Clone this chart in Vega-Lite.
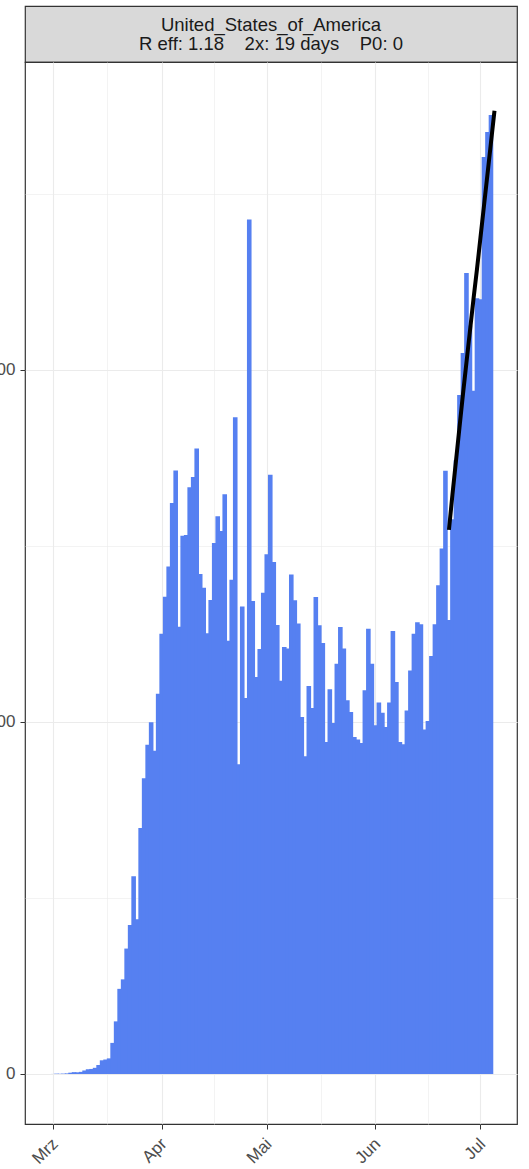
{
  "$schema": "https://vega.github.io/schema/vega-lite/v6.json",
  "padding": {"left": -33, "top": 5, "right": 0, "bottom": 0},
  "background": "white",
  "spacing": 0,
  "bounds": "flush",
  "config": {
    "font": "Liberation Sans",
    "view": {"stroke": null},
    "axis": {
      "domain": false,
      "gridColor": "#ebebeb",
      "tickColor": "#333333",
      "labelColor": "#4d4d4d",
      "labelFont": "Liberation Sans",
      "labelFontSize": 17,
      "tickSize": 5,
      "labelPadding": 5
    }
  },
  "datasets": {
    "strip": [{"label": "United_States_of_America\nR eff: 1.18\u00a0\u00a0\u00a0 2x: 19 days\u00a0\u00a0\u00a0 P0: 0"}],
    "cases": [
      {"date": "2020-03-01", "cases": 3},
      {"date": "2020-03-02", "cases": 20},
      {"date": "2020-03-03", "cases": 14},
      {"date": "2020-03-04", "cases": 22},
      {"date": "2020-03-05", "cases": 34},
      {"date": "2020-03-06", "cases": 74},
      {"date": "2020-03-07", "cases": 105},
      {"date": "2020-03-08", "cases": 95},
      {"date": "2020-03-09", "cases": 121},
      {"date": "2020-03-10", "cases": 200},
      {"date": "2020-03-11", "cases": 271},
      {"date": "2020-03-12", "cases": 287},
      {"date": "2020-03-13", "cases": 351},
      {"date": "2020-03-14", "cases": 511},
      {"date": "2020-03-15", "cases": 777},
      {"date": "2020-03-16", "cases": 823},
      {"date": "2020-03-17", "cases": 887},
      {"date": "2020-03-18", "cases": 1766},
      {"date": "2020-03-19", "cases": 2988},
      {"date": "2020-03-20", "cases": 4835},
      {"date": "2020-03-21", "cases": 5374},
      {"date": "2020-03-22", "cases": 7123},
      {"date": "2020-03-23", "cases": 8459},
      {"date": "2020-03-24", "cases": 11236},
      {"date": "2020-03-25", "cases": 8789},
      {"date": "2020-03-26", "cases": 13963},
      {"date": "2020-03-27", "cases": 16797},
      {"date": "2020-03-28", "cases": 18695},
      {"date": "2020-03-29", "cases": 19979},
      {"date": "2020-03-30", "cases": 18360},
      {"date": "2020-03-31", "cases": 21595},
      {"date": "2020-04-01", "cases": 24998},
      {"date": "2020-04-02", "cases": 27103},
      {"date": "2020-04-03", "cases": 28819},
      {"date": "2020-04-04", "cases": 32425},
      {"date": "2020-04-05", "cases": 34272},
      {"date": "2020-04-06", "cases": 25398},
      {"date": "2020-04-07", "cases": 30561},
      {"date": "2020-04-08", "cases": 30613},
      {"date": "2020-04-09", "cases": 33323},
      {"date": "2020-04-10", "cases": 33901},
      {"date": "2020-04-11", "cases": 35527},
      {"date": "2020-04-12", "cases": 28391},
      {"date": "2020-04-13", "cases": 27620},
      {"date": "2020-04-14", "cases": 25023},
      {"date": "2020-04-15", "cases": 26922},
      {"date": "2020-04-16", "cases": 30148},
      {"date": "2020-04-17", "cases": 31667},
      {"date": "2020-04-18", "cases": 30833},
      {"date": "2020-04-19", "cases": 32922},
      {"date": "2020-04-20", "cases": 24601},
      {"date": "2020-04-21", "cases": 28065},
      {"date": "2020-04-22", "cases": 37289},
      {"date": "2020-04-23", "cases": 17588},
      {"date": "2020-04-24", "cases": 26543},
      {"date": "2020-04-25", "cases": 21352},
      {"date": "2020-04-26", "cases": 48529},
      {"date": "2020-04-27", "cases": 26857},
      {"date": "2020-04-28", "cases": 22541},
      {"date": "2020-04-29", "cases": 24132},
      {"date": "2020-04-30", "cases": 27326},
      {"date": "2020-05-01", "cases": 29515},
      {"date": "2020-05-02", "cases": 34037},
      {"date": "2020-05-03", "cases": 29078},
      {"date": "2020-05-04", "cases": 25501},
      {"date": "2020-05-05", "cases": 22335},
      {"date": "2020-05-06", "cases": 24252},
      {"date": "2020-05-07", "cases": 24160},
      {"date": "2020-05-08", "cases": 28360},
      {"date": "2020-05-09", "cases": 26900},
      {"date": "2020-05-10", "cases": 25580},
      {"date": "2020-05-11", "cases": 20270},
      {"date": "2020-05-12", "cases": 18040},
      {"date": "2020-05-13", "cases": 22030},
      {"date": "2020-05-14", "cases": 20780},
      {"date": "2020-05-15", "cases": 27090},
      {"date": "2020-05-16", "cases": 25480},
      {"date": "2020-05-17", "cases": 24470},
      {"date": "2020-05-18", "cases": 18850},
      {"date": "2020-05-19", "cases": 21850},
      {"date": "2020-05-20", "cases": 19930},
      {"date": "2020-05-21", "cases": 23300},
      {"date": "2020-05-22", "cases": 25380},
      {"date": "2020-05-23", "cases": 24160},
      {"date": "2020-05-24", "cases": 21220},
      {"date": "2020-05-25", "cases": 20560},
      {"date": "2020-05-26", "cases": 19140},
      {"date": "2020-05-27", "cases": 18990},
      {"date": "2020-05-28", "cases": 18800},
      {"date": "2020-05-29", "cases": 21790},
      {"date": "2020-05-30", "cases": 25290},
      {"date": "2020-05-31", "cases": 23300},
      {"date": "2020-06-01", "cases": 19800},
      {"date": "2020-06-02", "cases": 21090},
      {"date": "2020-06-03", "cases": 20520},
      {"date": "2020-06-04", "cases": 19700},
      {"date": "2020-06-05", "cases": 21090},
      {"date": "2020-06-06", "cases": 25160},
      {"date": "2020-06-07", "cases": 22260},
      {"date": "2020-06-08", "cases": 18850},
      {"date": "2020-06-09", "cases": 18730},
      {"date": "2020-06-10", "cases": 20640},
      {"date": "2020-06-11", "cases": 22910},
      {"date": "2020-06-12", "cases": 25000},
      {"date": "2020-06-13", "cases": 25660},
      {"date": "2020-06-14", "cases": 25540},
      {"date": "2020-06-15", "cases": 19560},
      {"date": "2020-06-16", "cases": 20040},
      {"date": "2020-06-17", "cases": 23740},
      {"date": "2020-06-18", "cases": 25540},
      {"date": "2020-06-19", "cases": 27760},
      {"date": "2020-06-20", "cases": 29840},
      {"date": "2020-06-21", "cases": 34260},
      {"date": "2020-06-22", "cases": 25780},
      {"date": "2020-06-23", "cases": 31500},
      {"date": "2020-06-24", "cases": 34860},
      {"date": "2020-06-25", "cases": 38560},
      {"date": "2020-06-26", "cases": 40950},
      {"date": "2020-06-27", "cases": 45490},
      {"date": "2020-06-28", "cases": 42500},
      {"date": "2020-06-29", "cases": 38800},
      {"date": "2020-06-30", "cases": 44060},
      {"date": "2020-07-01", "cases": 44000},
      {"date": "2020-07-02", "cases": 52070},
      {"date": "2020-07-03", "cases": 53500},
      {"date": "2020-07-04", "cases": 54460}
    ],
    "fit": [
      {"date": "2020-06-22", "fit": 30900},
      {"date": "2020-06-23", "fit": 32900},
      {"date": "2020-06-24", "fit": 34800},
      {"date": "2020-06-25", "fit": 36700},
      {"date": "2020-06-26", "fit": 38600},
      {"date": "2020-06-27", "fit": 40400},
      {"date": "2020-06-28", "fit": 42200},
      {"date": "2020-06-29", "fit": 44000},
      {"date": "2020-06-30", "fit": 45700},
      {"date": "2020-07-01", "fit": 47500},
      {"date": "2020-07-02", "fit": 49300},
      {"date": "2020-07-03", "fit": 51100},
      {"date": "2020-07-04", "fit": 52900},
      {"date": "2020-07-05", "fit": 54700}
    ]
  },
  "vconcat": [
    {
      "data": {"name": "strip"},
      "width": 492,
      "height": 56,
      "view": {"fill": "#d9d9d9", "stroke": "#333333", "strokeWidth": 1.2},
      "mark": {"type": "text", "lineBreak": "\n", "fontSize": 18.5, "lineHeight": 19, "dy": -9.5, "color": "#1a1a1a", "font": "Liberation Sans", "align": "center", "baseline": "middle"},
      "encoding": {"text": {"field": "label", "type": "nominal"}}
    },
    {
      "width": 492,
      "height": 1062,
      "view": {"fill": "white", "stroke": "#333333", "strokeWidth": 1.2},
      "layer": [
        {
          "data": {"name": "cases"},
          "mark": {"type": "bar", "width": 4.6, "color": "#5680f1"},
          "encoding": {
            "x": {
              "field": "date",
              "type": "temporal",
              "scale": {
                "type": "utc",
                "nice": false,
                "domain": [
                  {"year": 2020, "month": 2, "date": 23, "hours": 10, "utc": true},
                  {"year": 2020, "month": 7, "date": 10, "utc": true}
                ]
              },
              "axis": {
                "title": null,
                "values": [
                  {"year": 2020, "month": 3, "date": 1, "utc": true},
                  {"year": 2020, "month": 3, "date": 16, "hours": 12, "utc": true},
                  {"year": 2020, "month": 4, "date": 1, "utc": true},
                  {"year": 2020, "month": 4, "date": 16, "utc": true},
                  {"year": 2020, "month": 5, "date": 1, "utc": true},
                  {"year": 2020, "month": 5, "date": 16, "hours": 12, "utc": true},
                  {"year": 2020, "month": 6, "date": 1, "utc": true},
                  {"year": 2020, "month": 6, "date": 16, "utc": true},
                  {"year": 2020, "month": 7, "date": 1, "utc": true}
                ],
                "labelExpr": "utcdate(datum.value) === 1 ? ['Jan','Feb','Mrz','Apr','Mai','Jun','Jul','Aug','Sep','Okt','Nov','Dez'][utcmonth(datum.value)] : ''",
                "labelAngle": -45,
                "labelAlign": "right",
                "labelBaseline": "middle",
                "labelPadding": 12,
                "labelOffset": 2,
                "labelOverlap": false,
                "labelFlush": false,
                "tickOpacity": {"condition": {"test": "utcdate(datum.value) === 1", "value": 1}, "value": 0},
                "gridWidth": {"condition": {"test": "utcdate(datum.value) === 1", "value": 1.1}, "value": 0.6}
              }
            },
            "y": {
              "field": "cases",
              "type": "quantitative",
              "scale": {"domain": [-2840, 57470], "nice": false, "zero": false},
              "axis": {
                "title": null,
                "values": [0, 10000, 20000, 30000, 40000, 50000],
                "format": "d",
                "labelExpr": "datum.value % 20000 === 0 ? datum.label : ''",
                "tickOpacity": {"condition": {"test": "datum.value % 20000 === 0", "value": 1}, "value": 0},
                "gridWidth": {"condition": {"test": "datum.value % 20000 === 0", "value": 1.1}, "value": 0.6}
              }
            }
          }
        },
        {
          "data": {"name": "fit"},
          "mark": {"type": "line", "color": "black", "strokeWidth": 4, "strokeCap": "butt"},
          "encoding": {
            "x": {"field": "date", "type": "temporal"},
            "y": {"field": "fit", "type": "quantitative"}
          }
        }
      ]
    }
  ]
}
